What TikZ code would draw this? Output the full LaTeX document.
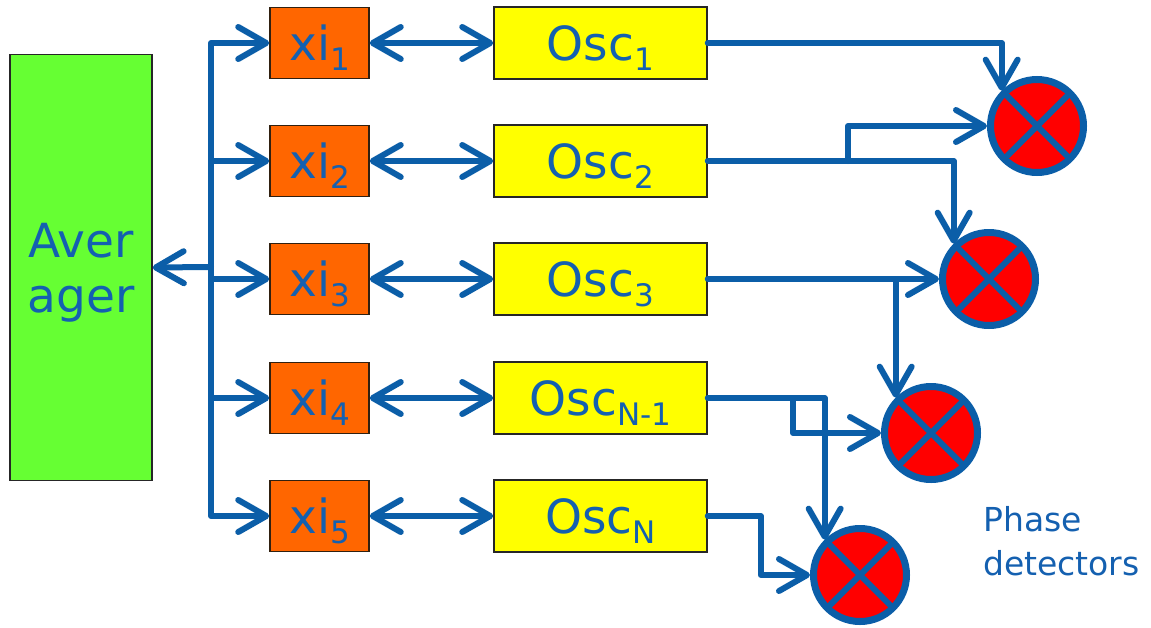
\documentclass[tikz,border=0pt]{standalone}
\usepackage{fontspec}
\setmainfont{DejaVu Sans}
\usetikzlibrary{arrows.meta}
\definecolor{wireblue}{RGB}{11,94,168}
\definecolor{textblue}{RGB}{20,96,176}
\definecolor{avergreen}{RGB}{102,255,51}
\definecolor{xiorange}{RGB}{255,102,0}
\definecolor{oscyellow}{RGB}{255,255,0}
\definecolor{pdred}{RGB}{255,0,0}
\newcommand{\subidx}[1]{\raisebox{-10pt}[0pt][0pt]{\fontsize{31pt}{31pt}\selectfont #1}}
\tikzset{
  box/.style={draw=black!85, line width=1.5pt, inner sep=0pt, text=textblue,
    font=\fontsize{47pt}{55pt}\selectfont},
  avgbox/.style={box, fill=avergreen, minimum width=142pt, minimum height=426pt,
    align=center, text depth=0pt},
  xibox/.style={box, fill=xiorange, draw=black!75!brown, minimum width=99pt, minimum height=71pt},
  oscbox/.style={box, fill=oscyellow, minimum width=213pt, minimum height=72pt},
  detector/.style={circle, fill=pdred, draw=wireblue, line width=7pt, minimum size=93pt,
    inner sep=0pt, path picture={
      \draw[wireblue, line width=6pt]
        (path picture bounding box.north west) -- (path picture bounding box.south east)
        (path picture bounding box.north east) -- (path picture bounding box.south west);}},
  wire/.style={draw=wireblue, line width=6pt, line cap=round, line join=round},
  >={Straight Barb[length=28pt,width=32pt,round]},
}
\begin{document}
\begin{tikzpicture}[x=1pt,y=-1pt]
    \useasboundingbox (0,0) rectangle (1151,627);
    \node[avgbox] (aver) at (81,267.5) {Aver\\ager};
    % xi column
    \node[xibox] (xi1) at (319.5,43) {xi\subidx{1}};
    \node[xibox] (xi2) at (319.5,161) {xi\subidx{2}};
    \node[xibox] (xi3) at (319.5,279) {xi\subidx{3}};
    \node[xibox] (xi4) at (319.5,398) {xi\subidx{4}};
    \node[xibox] (xi5) at (319.5,516) {xi\subidx{5}};
    % oscillators
    \node[oscbox] (osc1) at (600.5,43) {Osc\subidx{1}};
    \node[oscbox] (osc2) at (600.5,161) {Osc\subidx{2}};
    \node[oscbox] (osc3) at (600.5,279) {Osc\subidx{3}};
    \node[oscbox] (osc4) at (600.5,398) {Osc\subidx{N-1}};
    \node[oscbox] (osc5) at (600.5,516) {Osc\subidx{N}};
    % phase detectors
    \node[detector] (pd1) at (1037,126) {};
    \node[detector] (pd2) at (989,279) {};
    \node[detector] (pd3) at (931,433) {};
    \node[detector] (pd4) at (860,575) {};
    \node[text=textblue, font=\fontsize{33pt}{44pt}\selectfont, align=left,
      anchor=north west, inner sep=0pt] (pdlabel) at (983,506) {Phase\\detectors};

    % averager feedback
    \coordinate (split) at (211,267);
    \draw[wire,->] (split) -- (aver.east);
    \foreach \i in {1,...,5} {
        \draw[wire,->] (split) |- (xi\i.west);
        \draw[wire,<->] (xi\i.east) -- (osc\i.west);
    }

    % into the detectors
    \draw[wire,->] (osc1.east) -| (pd1.north west);
    \draw[wire,->] (osc2.east) -| (pd2.north west);
    \coordinate (tap2) at (848,161);
    \draw[wire,->] (tap2) |- (pd1.west);
    \draw[wire,->] (osc3.east) -- (pd2.west);
    \coordinate (tap3) at (pd3.north west |- osc3.east);
    \draw[wire,->] (tap3) -- (pd3.north west);
    \draw[wire,->] (osc4.east) -| (pd4.north west);
    \coordinate (tap4) at (793,398);
    \draw[wire,->] (tap4) |- (pd3.west);
    \draw[wire,->] (osc5.east) -- ++(53,0) |- (pd4.west);
\end{tikzpicture}
\end{document}
